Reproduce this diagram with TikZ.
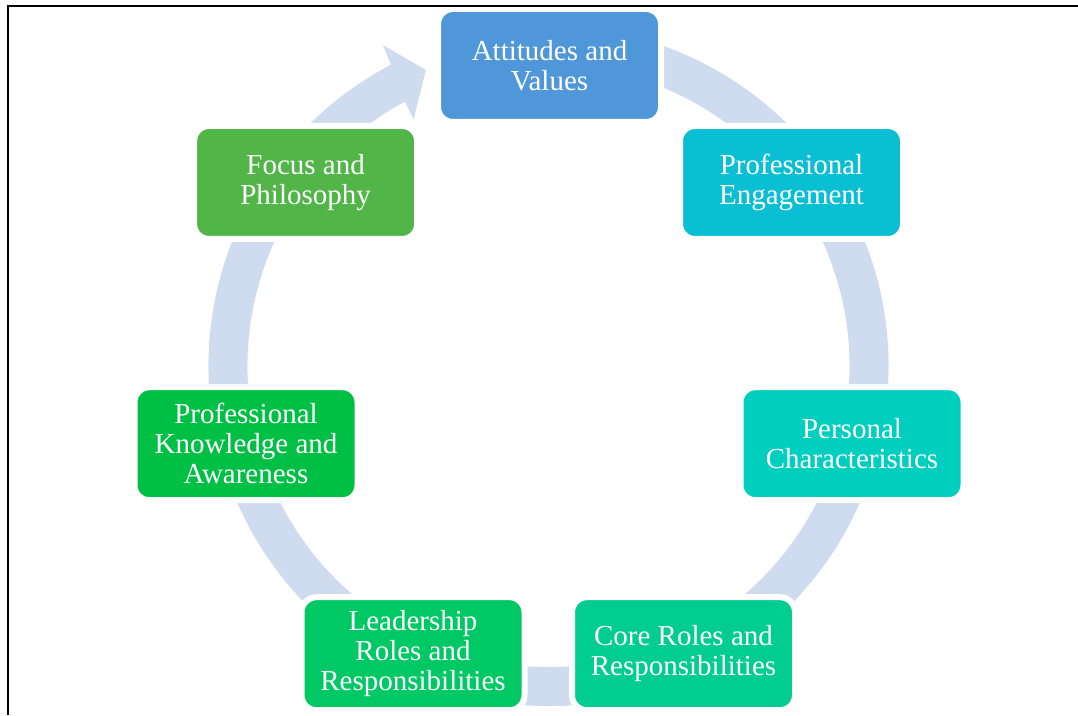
\documentclass[tikz,border=0pt]{standalone}
\usepackage{fontspec}
\setmainfont{Liberation Serif}
\usetikzlibrary{calc}
\definecolor{ringblue}{RGB}{207,219,238}
\definecolor{cAtt}{RGB}{79,151,216}
\definecolor{cEng}{RGB}{10,191,212}
\definecolor{cPers}{RGB}{0,207,192}
\definecolor{cCore}{RGB}{0,205,143}
\definecolor{cLead}{RGB}{0,200,101}
\definecolor{cKnow}{RGB}{0,191,69}
\definecolor{cFocus}{RGB}{81,181,72}
\begin{document}
\begin{tikzpicture}[x=1pt,y=1pt,
  box/.style={draw=white, line width=6pt, rounded corners=15pt,
    minimum width=223pt, minimum height=113pt, inner sep=0pt,
    align=center, text=white, font=\fontsize{29}{30}\selectfont},
  frame/.style={line width=2.7pt, line join=miter}
]
\useasboundingbox (0,0) rectangle (1078,715);
\coordinate (C) at (548.5,349);
% circular arrow
\fill[ringblue] ($(C)+(75:340)$) arc[start angle=75, end angle=-242.4, radius=340]
  -- ($(C)+(117.3:361)$) -- ($(C)+(112.5:320.5)$) -- ($(C)+(118.7:281)$)
  -- ($(C)+(118.5:301)$) arc[start angle=-241.5, end angle=75, radius=301] -- cycle;
% boxes
\node[box, fill=cAtt]   (att)   at (549.5,649.5) {Attitudes and\\Values};
\node[box, fill=cEng]   (eng)   at (791.5,532.5) {Professional\\Engagement};
\node[box, fill=cPers]  (pers)  at (852,271.3)   {Personal\\Characteristics};
\node[box, fill=cCore]  (core)  at (683.5,61.3)  {Core Roles and\\Responsibilities};
\node[box, fill=cLead]  (lead)  at (413,61.3)    {Leadership\\Roles and\\Responsibilities};
\node[box, fill=cKnow]  (know)  at (246,271.3)   {Professional\\Knowledge and\\Awareness};
\node[box, fill=cFocus] (focus) at (305.6,532.5) {Focus and\\Philosophy};
% frame (top and left edges only)
\draw[frame] (8,0) -- (8,709) -- (1078,709);
\end{tikzpicture}
\end{document}
